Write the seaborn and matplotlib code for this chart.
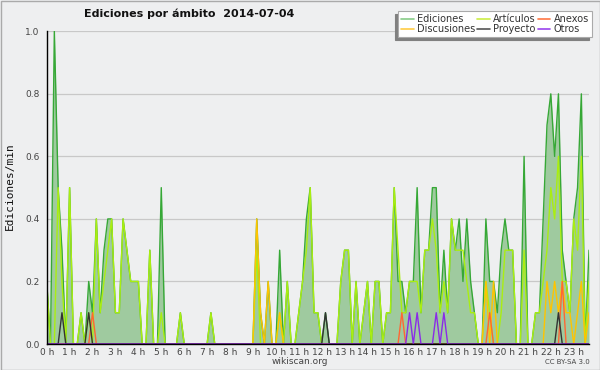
import numpy as np
import pandas as pd
import matplotlib
matplotlib.use("Agg")
import matplotlib.pyplot as plt
from matplotlib.lines import Line2D
from matplotlib.patches import Rectangle
import seaborn as sns

# ---- data: 10-minute bins, edits per minute ----
ediciones = [
    0.2, 0, 1.0, 0.5, 0.3, 0, 0.5, 0, 0, 0.1, 0, 0.2,
    0.1, 0.4, 0.1, 0.3, 0.4, 0.4, 0.1, 0.1, 0.4, 0.3, 0.2, 0.2,
    0.2, 0, 0, 0.3, 0, 0, 0.5, 0, 0, 0, 0, 0.1,
    0, 0, 0, 0, 0, 0, 0, 0.1, 0, 0, 0, 0,
    0, 0, 0, 0, 0, 0, 0, 0.4, 0.1, 0, 0.2, 0,
    0, 0.3, 0, 0.2, 0, 0, 0.1, 0.2, 0.4, 0.5, 0.1, 0.1,
    0, 0.1, 0, 0, 0, 0.2, 0.3, 0.3, 0, 0.2, 0, 0.1,
    0.2, 0, 0.2, 0.2, 0, 0.1, 0.1, 0.5, 0.2, 0.2, 0.1, 0.2,
    0.2, 0.5, 0.1, 0.3, 0.3, 0.5, 0.5, 0.1, 0.3, 0.1, 0.4, 0.3,
    0.4, 0.2, 0.4, 0.2, 0.1, 0, 0, 0.4, 0.2, 0.2, 0.1, 0.3,
    0.4, 0.3, 0.3, 0, 0, 0.6, 0, 0, 0.1, 0.1, 0.4, 0.7,
    0.8, 0.6, 0.8, 0.3, 0.2, 0.1, 0.4, 0.5, 0.8, 0, 0.3,
]
articulos = [
    0.2, 0, 0, 0.5, 0.2, 0, 0.5, 0, 0, 0.1, 0, 0.1,
    0, 0.4, 0.1, 0.2, 0.3, 0.4, 0.1, 0.1, 0.4, 0.3, 0.2, 0.2,
    0.2, 0, 0, 0.3, 0, 0, 0.1, 0, 0, 0, 0, 0.1,
    0, 0, 0, 0, 0, 0, 0, 0.1, 0, 0, 0, 0,
    0, 0, 0, 0, 0, 0, 0, 0.3, 0, 0, 0, 0,
    0, 0.1, 0, 0.2, 0, 0, 0.1, 0.2, 0.3, 0.5, 0.1, 0.1,
    0, 0, 0, 0, 0, 0.2, 0.3, 0.3, 0, 0.2, 0, 0.1,
    0.2, 0, 0.2, 0.2, 0, 0.1, 0.1, 0.5, 0.3, 0.1, 0.1, 0.2,
    0.2, 0.2, 0.1, 0.3, 0.3, 0.4, 0.3, 0.1, 0.2, 0.1, 0.4, 0.3,
    0.3, 0.3, 0.2, 0.1, 0.1, 0, 0, 0.2, 0.1, 0, 0, 0.1,
    0.3, 0.3, 0.3, 0, 0, 0.3, 0, 0, 0.1, 0.1, 0.2, 0.3,
    0.5, 0.4, 0.6, 0.2, 0.2, 0.1, 0.4, 0.3, 0.6, 0, 0.2,
]
discusiones = [
    0, 0, 0, 0, 0, 0, 0, 0, 0, 0, 0, 0,
    0, 0, 0, 0, 0, 0, 0, 0, 0, 0, 0, 0,
    0, 0, 0, 0, 0, 0, 0, 0, 0, 0, 0, 0,
    0, 0, 0, 0, 0, 0, 0, 0, 0, 0, 0, 0,
    0, 0, 0, 0, 0, 0, 0, 0.4, 0.1, 0, 0.2, 0,
    0, 0.1, 0, 0, 0, 0, 0, 0, 0, 0, 0, 0,
    0, 0, 0, 0, 0, 0, 0, 0, 0, 0, 0, 0,
    0, 0, 0, 0, 0, 0, 0, 0, 0, 0, 0, 0,
    0, 0, 0, 0, 0, 0, 0, 0, 0, 0, 0, 0,
    0, 0, 0, 0, 0, 0, 0, 0.2, 0, 0.2, 0, 0,
    0, 0, 0, 0, 0, 0, 0, 0, 0, 0, 0, 0.2,
    0.1, 0.2, 0.1, 0.2, 0.1, 0.1, 0, 0.1, 0.2, 0, 0.1,
]
anexos = [
    0, 0, 0, 0, 0, 0, 0, 0, 0, 0, 0, 0,
    0.1, 0, 0, 0, 0, 0, 0, 0, 0, 0, 0, 0,
    0, 0, 0, 0, 0, 0, 0, 0, 0, 0, 0, 0,
    0, 0, 0, 0, 0, 0, 0, 0, 0, 0, 0, 0,
    0, 0, 0, 0, 0, 0, 0, 0, 0, 0, 0, 0,
    0, 0, 0, 0, 0, 0, 0, 0, 0, 0, 0, 0,
    0, 0, 0, 0, 0, 0, 0, 0, 0, 0, 0, 0,
    0, 0, 0, 0, 0, 0, 0, 0, 0, 0.1, 0, 0,
    0, 0, 0, 0, 0, 0, 0, 0, 0, 0, 0, 0,
    0, 0, 0, 0, 0, 0, 0, 0, 0.1, 0, 0, 0,
    0, 0, 0, 0, 0, 0, 0, 0, 0, 0, 0, 0,
    0, 0, 0, 0.2, 0, 0, 0, 0, 0, 0, 0,
]
proyecto = [
    0, 0, 0, 0, 0.1, 0, 0, 0, 0, 0, 0, 0.1,
    0, 0, 0, 0, 0, 0, 0, 0, 0, 0, 0, 0,
    0, 0, 0, 0, 0, 0, 0, 0, 0, 0, 0, 0,
    0, 0, 0, 0, 0, 0, 0, 0, 0, 0, 0, 0,
    0, 0, 0, 0, 0, 0, 0, 0, 0, 0, 0, 0,
    0, 0, 0, 0, 0, 0, 0, 0, 0, 0, 0, 0,
    0, 0.1, 0, 0, 0, 0, 0, 0, 0, 0, 0, 0,
    0, 0, 0, 0, 0, 0, 0, 0, 0, 0, 0, 0,
    0, 0, 0, 0, 0, 0, 0, 0, 0, 0, 0, 0,
    0, 0, 0, 0, 0, 0, 0, 0, 0, 0, 0, 0,
    0, 0, 0, 0, 0, 0, 0, 0, 0, 0, 0, 0,
    0, 0, 0.1, 0, 0, 0, 0, 0, 0, 0, 0,
]
otros = [
    0, 0, 0, 0, 0, 0, 0, 0, 0, 0, 0, 0,
    0, 0, 0, 0, 0, 0, 0, 0, 0, 0, 0, 0,
    0, 0, 0, 0, 0, 0, 0, 0, 0, 0, 0, 0,
    0, 0, 0, 0, 0, 0, 0, 0, 0, 0, 0, 0,
    0, 0, 0, 0, 0, 0, 0, 0, 0, 0, 0, 0,
    0, 0, 0, 0, 0, 0, 0, 0, 0, 0, 0, 0,
    0, 0, 0, 0, 0, 0, 0, 0, 0, 0, 0, 0,
    0, 0, 0, 0, 0, 0, 0, 0, 0, 0, 0, 0.1,
    0, 0.1, 0, 0, 0, 0, 0.1, 0, 0.1, 0, 0, 0,
    0, 0, 0, 0, 0, 0, 0, 0, 0, 0, 0, 0,
    0, 0, 0, 0, 0, 0, 0, 0, 0, 0, 0, 0,
    0, 0, 0, 0, 0, 0, 0, 0, 0, 0, 0,
]
series_names = ["Ediciones", "Artículos", "Discusiones", "Anexos", "Proyecto", "Otros"]
hour_labels = [f"{h} h" for h in range(24)]
title = "Ediciones por ámbito  2014-07-04"

# ---- styling ----
colors = {
    "Ediciones": "#36a836",
    "Artículos": "#aaee11",
    "Discusiones": "#ffc400",
    "Anexos": "#ff6633",
    "Proyecto": "#333333",
    "Otros": "#8a2be8",
}
legend_colors = {
    "Ediciones": "#88cc88",
    "Artículos": "#ccee44",
    "Discusiones": "#ffcc44",
    "Anexos": "#ff7744",
    "Proyecto": "#555555",
    "Otros": "#9944ee",
}
fill_color = "#9fca9f"
bg = "#eeeff0"

values = [ediciones, articulos, discusiones, anexos, proyecto, otros]
n = len(ediciones)
hora = np.arange(n) / 6.0
df = pd.concat(
    [pd.DataFrame({"hora": hora, "valor": v, "serie": s}) for s, v in zip(series_names, values)],
    ignore_index=True,
)

sns.set_theme(style="white")
plt.rcParams["font.family"] = ["DejaVu Sans"]

fig = plt.figure(figsize=(6, 3.7), dpi=100, facecolor=bg)
ax = fig.add_axes([46.7 / 600, 26 / 370, (589 - 46.7) / 600, (344 - 31.3) / 370])
ax.set_facecolor(bg)

ed = df[df["serie"] == "Ediciones"]
ax.fill_between(ed["hora"], 0, ed["valor"], color=fill_color, linewidth=0, zorder=1)
sns.lineplot(data=df, x="hora", y="valor", hue="serie", hue_order=series_names,
             palette=colors, linewidth=1.0, legend=False, ax=ax, zorder=2,
             estimator=None, sort=False)

ax.set_xlim(0, (n - 1) / 6.0)
ax.set_ylim(0, 1.0)
ax.set_xticks(range(24))
ax.set_xticklabels(hour_labels)
ax.set_xticks(np.arange(0, n) / 6.0, minor=True)
ax.set_yticks([0.0, 0.2, 0.4, 0.6, 0.8, 1.0])
ax.set_yticklabels(["0.0", "0.2", "0.4", "0.6", "0.8", "1.0"])
ax.set_yticks(np.arange(0, 1.01, 0.1), minor=True)
ax.tick_params(axis="both", which="both", direction="out", color="black",
               labelsize=6.5, labelcolor="#444444")
ax.tick_params(axis="x", which="both", length=2.5, width=0.8, pad=0.5)
ax.tick_params(axis="y", which="major", length=4, width=0.8, pad=1)
ax.tick_params(axis="y", which="minor", length=3, width=0.8)
ax.yaxis.grid(True, which="major", color="#c8c8c8", linewidth=0.9)
ax.xaxis.grid(False)
ax.set_axisbelow(True)
for side in ["top", "right"]:
    ax.spines[side].set_visible(False)
for side in ["left", "bottom"]:
    ax.spines[side].set_color("black")
    ax.spines[side].set_linewidth(1.0)
ax.set_xlabel("")
ax.set_ylabel("")

order = [0, 2, 1, 4, 3, 5]  # column-wise fill for 3 columns
handles = [Line2D([0], [0], color=legend_colors[series_names[i]], linewidth=1.2) for i in order]
labels = [series_names[i] for i in order]
leg = fig.legend(handles, labels,
                 ncol=3, loc="upper right", bbox_to_anchor=(592 / 600, 1 - 11 / 370),
                 fontsize=7, frameon=True, fancybox=False,
                 shadow={"ox": -2, "oy": -2, "color": "#808080", "alpha": 1.0},
                 handlelength=1.3, handletextpad=0.35, columnspacing=0.2,
                 labelspacing=0.0, borderpad=0.3, borderaxespad=0)
leg.get_frame().set_edgecolor("#aaaaaa")
leg.get_frame().set_facecolor("white")
leg.get_frame().set_linewidth(0.8)
for t in leg.get_texts():
    t.set_color("#333333")

fig.text(189 / 600, 1 - 14 / 370, title, ha="center", va="center",
         fontsize=8, fontweight="bold", color="#111111")
fig.text(10 / 600, 1 - 186 / 370, "Ediciones/min", rotation=90, ha="center", va="center",
         fontsize=8, family=["DejaVu Sans Mono"], color="#111111")
fig.text(300 / 600, 1 - 362 / 370, "wikiscan.org", ha="center", va="center",
         fontsize=6.5, color="#444444")
fig.text(590 / 600, 1 - 362.5 / 370, "CC BY-SA 3.0", ha="right", va="center",
         fontsize=5, color="#444444")

fig.patches.append(Rectangle((0.5 / 600, 0.5 / 370), 1 - 1 / 600, 1 - 1 / 370,
                             transform=fig.transFigure, fill=False,
                             edgecolor="#aaaaaa", linewidth=1.0, zorder=10))

fig.savefig("out.png", dpi=100, facecolor=bg)
